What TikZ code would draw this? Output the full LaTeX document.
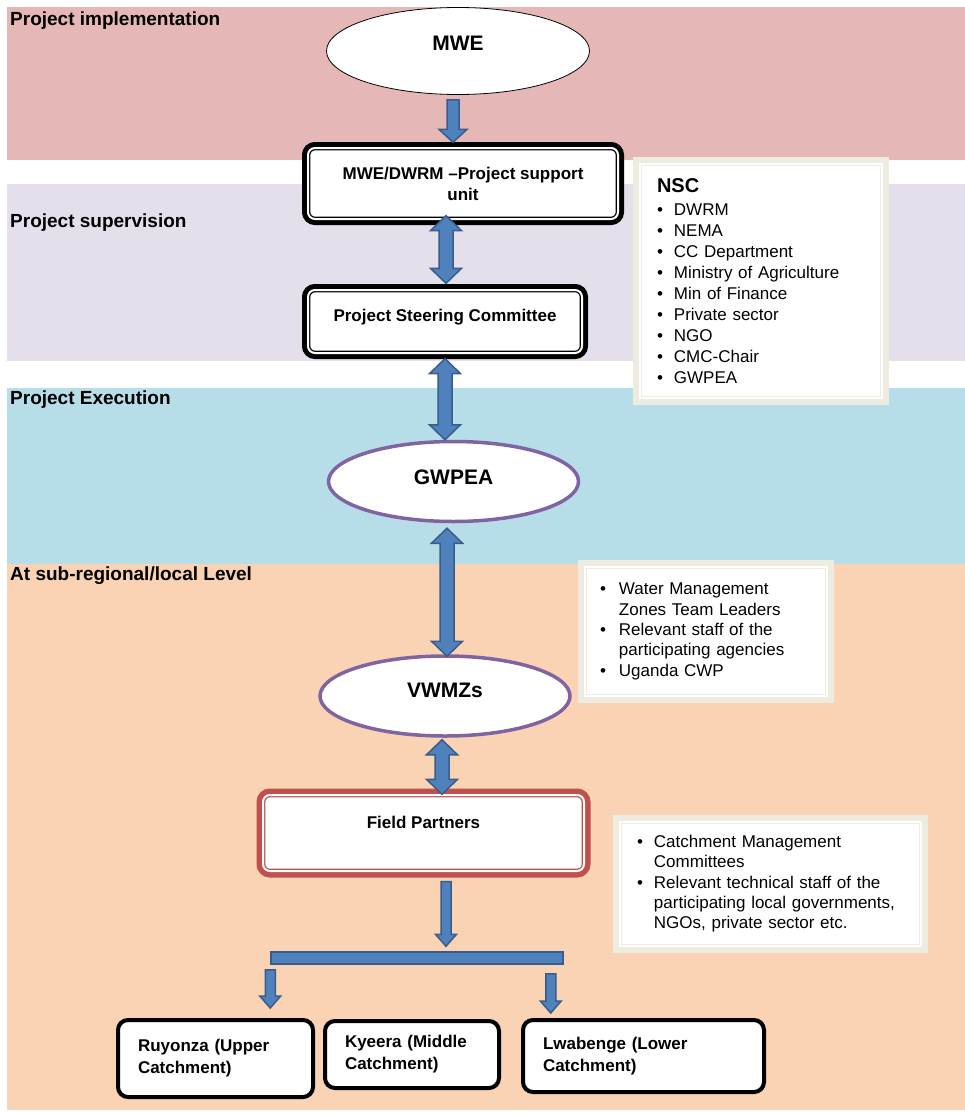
\documentclass[tikz,border=0pt]{standalone}
\usepackage{fontspec}
\setmainfont{Liberation Sans}
\usetikzlibrary{shapes.geometric,calc}

\definecolor{implband}{HTML}{E5B8B7}
\definecolor{supband}{HTML}{E5DFEC}
\definecolor{execband}{HTML}{B7DDE8}
\definecolor{localband}{HTML}{FAD3B4}
\definecolor{arrowfill}{HTML}{4F81BD}
\definecolor{arrowline}{HTML}{385D8A}
\definecolor{ovalpurple}{HTML}{8064A2}
\definecolor{framered}{HTML}{C0504D}
\definecolor{framebeige}{HTML}{EEECE1}

\tikzset{
  bandlabel/.style={anchor=west, inner sep=0pt, font=\fontsize{19}{22}\selectfont\bfseries},
  blockarrow/.style={fill=arrowfill, draw=arrowline, line width=1.5pt, line join=miter},
  topoval/.style={ellipse, fill=white, draw=black, line width=0.8pt, font=\fontsize{21}{24}\selectfont\bfseries},
  oval/.style={ellipse, fill=white, draw=ovalpurple, line width=3.5pt, font=\fontsize{21}{24}\selectfont\bfseries},
  unitbox/.style 2 args={rectangle, rounded corners=7pt, fill=white, draw=#1, line width=1.3pt,
    double=white, double distance=2pt, preaction={draw=#1, line width=#2},
    align=center, font=\fontsize{17}{21}\selectfont\bfseries},
  catchbox/.style={rectangle, rounded corners=10pt, fill=white, draw=black, line width=4pt,
    inner xsep=20pt, align=left, font=\fontsize{17}{22}\selectfont\bfseries},
  sidebox/.style={rectangle, fill=white, draw=framebeige, line width=1pt, double=white,
    double distance=1.5pt, preaction={draw=framebeige, line width=14pt},
    align=left, font=\fontsize{17}{21}\selectfont},
  barbox/.style={rectangle, inner sep=0pt, fill=arrowfill, draw=arrowline, line width=1.5pt},
}

\newcommand{\twoway}[2]{%
  \draw[blockarrow] let \p1=(#1), \p2=(#2) in
    (\x1,\y1) -- (\x1+15.5pt,\y1-15pt) -- (\x1+7pt,\y1-15pt) -- (\x1+7pt,\y2+15pt)
    -- (\x1+15.5pt,\y2+15pt) -- (\x1,\y2) -- (\x1-15.5pt,\y2+15pt) -- (\x1-7pt,\y2+15pt)
    -- (\x1-7pt,\y1-15pt) -- (\x1-15.5pt,\y1-15pt) -- cycle;}
\newcommand{\oneway}[5]{%
  \draw[blockarrow] let \p1=(#1), \p2=(#2) in
    (\x1-#3,\y1) -- (\x1+#3,\y1) -- (\x1+#3,\y2+#5) -- (\x1+#4,\y2+#5) -- (\x1,\y2)
    -- (\x1-#4,\y2+#5) -- (\x1-#3,\y2+#5) -- cycle;}

\begin{document}
\begin{tikzpicture}[x=1pt, y=-1pt]
    \useasboundingbox (0,0) rectangle (965,1113);
    \fill[implband] (7,7) rectangle (965,160);
    \fill[supband] (7,184) rectangle (965,361);
    \fill[execband] (7,388) rectangle (965,564);
    \fill[localband] (7,564) rectangle (965,1110);

    \node[bandlabel] (implabel) at (10,20.5) {Project implementation};
    \node[bandlabel] (suplabel) at (10,222.5) {Project supervision};
    \node[bandlabel] (execlabel) at (10,399.5) {Project Execution};
    \node[bandlabel] (locallabel) at (10,575.5) {At sub-regional/local Level};

    \node[topoval, minimum width=263pt, minimum height=87pt] (mwe) at (458,51) {\raisebox{16pt}{MWE}};
    \node[unitbox={black}{12pt}, minimum width=310pt, minimum height=71pt] (psu) at (463,183.5)
        {MWE/DWRM –Project support\\unit};
    \node[unitbox={black}{12pt}, minimum width=274pt, minimum height=63pt] (psc) at (445,321.5)
        {\raisebox{12pt}{Project Steering Committee}};
    \node[oval, minimum width=250pt, minimum height=80pt] (gwpea) at (453.5,481.5) {\raisebox{9pt}{GWPEA}};
    \node[oval, minimum width=250pt, minimum height=80pt] (vwmz) at (445,696) {\raisebox{12pt}{VWMZs}};
    \node[unitbox={framered}{13pt}, minimum width=321pt, minimum height=76pt] (fp) at (423.5,833)
        {\raisebox{22pt}{Field Partners}};
    \node[barbox, minimum width=292pt, minimum height=12pt] (bar) at (417,958) {};
    \node[catchbox, text width=155pt, minimum height=77pt] (ruy) at (215.5,1058.5) {Ruyonza (Upper\\Catchment)};
    \node[catchbox, text width=134pt, minimum height=67pt] (kye) at (412,1054.5) {Kyeera (Middle\\Catchment)};
    \node[catchbox, text width=201pt, minimum height=72pt] (lwa) at (643.5,1056) {Lwabenge (Lower\\Catchment)};

    \node[sidebox, inner xsep=17pt, text width=208pt, minimum height=234pt] (nsc) at (761,281) {%
        \begin{tabular}{@{}l@{\hspace{11pt}}l@{}}
        \multicolumn{2}{@{}l@{}}{\rule{0pt}{21pt}\fontsize{20}{21}\selectfont\bfseries NSC}\\[2pt]
        \textbullet & DWRM\\
        \textbullet & NEMA\\
        \textbullet & CC Department\\
        \textbullet & Ministry of Agriculture\\
        \textbullet & Min of Finance\\
        \textbullet & Private sector\\
        \textbullet & NGO\\
        \textbullet & CMC-Chair\\
        \textbullet & GWPEA
        \end{tabular}};
    \node[sidebox, inner xsep=15pt, text width=212pt, minimum height=129pt,
        font=\fontsize{17}{20.3}\selectfont] (wmz) at (706,631.5) {%
        \begin{tabular}{@{}l@{\hspace{13pt}}l@{}}
        \textbullet & Water Management\\
                    & Zones Team Leaders\\
        \textbullet & Relevant staff of the\\
                    & participating agencies\\
        \textbullet & Uganda CWP
        \end{tabular}};
    \node[sidebox, inner xsep=17pt, text width=267pt, minimum height=124pt,
        font=\fontsize{17}{20.3}\selectfont] (cmc) at (770.5,884) {%
        \begin{tabular}{@{}l@{\hspace{11pt}}l@{}}
        \textbullet & Catchment Management\\
                    & Committees\\
        \textbullet & Relevant technical staff of the\\
                    & participating local governments,\\
                    & NGOs, private sector etc.
        \end{tabular}};

    \oneway{$(mwe.south)+(-5,5)$}{$(psu.north)+(0,-5)$}{6pt}{14pt}{13pt}
    \twoway{$(psu.south -| psc.north)+(1,-4)$}{$(psc.north)+(0,-6)$}
    \twoway{$(psc.south)+(0,5)$}{gwpea.north}
    \twoway{$(gwpea.south -| vwmz.north)+(2,5)$}{$(vwmz.north)+(0,2)$}
    \twoway{$(vwmz.south)+(-3,2)$}{fp.north}
    \oneway{$(fp.south)+(22.5,10)$}{$(bar.north)+(0,-5)$}{5pt}{10.5pt}{12pt}
    \oneway{$(bar.south west)+(0,5)$}{$(ruy.north)+(0,-10)$}{5pt}{10.5pt}{12pt}
    \oneway{$(bar.south east)+(-13,9)$}{$(lwa.north)+(0,-5)$}{5pt}{10.5pt}{12pt}
\end{tikzpicture}
\end{document}
